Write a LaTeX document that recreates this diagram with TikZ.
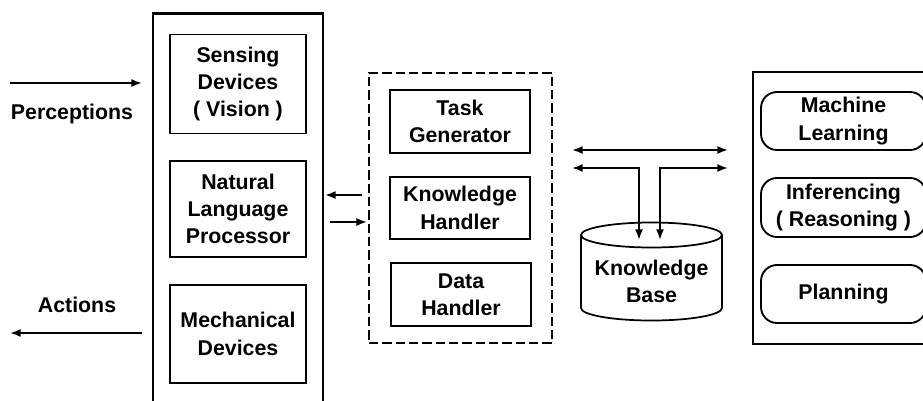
\documentclass[tikz,border=0pt]{standalone}
\usepackage{fontspec}
\setmainfont{Liberation Sans}
\usetikzlibrary{arrows.meta}
\begin{document}
\begin{tikzpicture}[x=0.75pt,y=-0.75pt,
 lbl/.style={font=\bfseries\fontsize{16}{20.5}\selectfont, align=center},
 ibox/.style={draw, line width=1.4pt, lbl, inner sep=0pt},
 rbox/.style={ibox, rounded corners=12pt},
 outerbox/.style={draw, line width=2pt, inner sep=0pt},
 dashbox/.style={draw, line width=2.2pt, dash pattern=on 7pt off 3pt, inner sep=0pt},
 arr/.style={line width=1.3pt, -{Latex[length=8pt,width=6pt]}},
 darr/.style={line width=1.3pt, {Latex[length=8pt,width=6pt]}-{Latex[length=8pt,width=6pt]}},
]
\useasboundingbox (0,0) rectangle (923,400);
\clip (0,0) rectangle (923,400);

% left column
\node[outerbox, minimum width=127.5pt, minimum height=305pt] (agent) at (238,216.5) {};
\node[ibox, minimum width=102pt, minimum height=74.25pt] (sense) at (238,84) {Sensing\\Devices\\( Vision )};
\node[ibox, minimum width=102pt, minimum height=72pt] (nlp) at (238,209) {Natural\\Language\\Processor};
\node[ibox, minimum width=102pt, minimum height=73.5pt] (mech) at (238,334) {Mechanical\\Devices};

\node[lbl] (perc) at (72,114) {Perceptions};
\node[lbl] (act) at (77,305) {Actions};
\coordinate (pa) at (10,83);
\coordinate (pb) at (142,83);
\coordinate (aa) at (142,333);
\coordinate (ab) at (10,333);
\draw[arr] (pa) -- (pb);
\draw[arr] (aa) -- (ab);

% middle dashed group
\node[dashbox, minimum width=137.25pt, minimum height=202.5pt] (ctrl) at (460.5,208) {};
\node[ibox, minimum width=105pt, minimum height=47.25pt] (task) at (460,121.5) {Task\\Generator};
\node[ibox, minimum width=105pt, minimum height=46.5pt] (kh) at (460,208) {Knowledge\\Handler};
\node[ibox, minimum width=105pt, minimum height=47.25pt] (dh) at (461,294.5) {Data\\Handler};

\coordinate (u1) at (362,195);
\coordinate (u2) at (325,195);
\coordinate (l1) at (330,222);
\coordinate (l2) at (367,222);
\draw[arr] (u1) -- (u2);
\draw[arr] (l1) -- (l2);

% knowledge base cylinder
\draw[line width=1.3pt] (651.5,235) ellipse [x radius=70.5, y radius=12.5];
\draw[line width=1.3pt] (581,235) -- (581,308) arc[start angle=180, end angle=0, x radius=70.5, y radius=12.5] -- (722,235);
\node[lbl] (kb) at (651.5,281.5) {Knowledge\\Base};

\coordinate (c1) at (572,150);
\coordinate (c2) at (728,150);
\coordinate (c3) at (572,168);
\coordinate (c4) at (639,240);
\coordinate (c5) at (660,240);
\coordinate (c6) at (728,168);
\draw[darr] (c1) -- (c2);
\draw[darr] (c3) -| (c4);
\draw[darr] (c5) |- (c6);

% right column
\node[outerbox, line width=1.7pt, minimum width=147.75pt, minimum height=204pt] (reason) at (851.5,208) {};
\node[rbox, minimum width=123.75pt, minimum height=43.5pt] (ml) at (843.5,121) {Machine\\Learning};
\node[rbox, minimum width=123.75pt, minimum height=44.25pt] (inf) at (843.5,207.5) {Inferencing\\( Reasoning )};
\node[rbox, minimum width=123.75pt, minimum height=43.5pt] (plan) at (843.5,294) {Planning};
\end{tikzpicture}
\end{document}
